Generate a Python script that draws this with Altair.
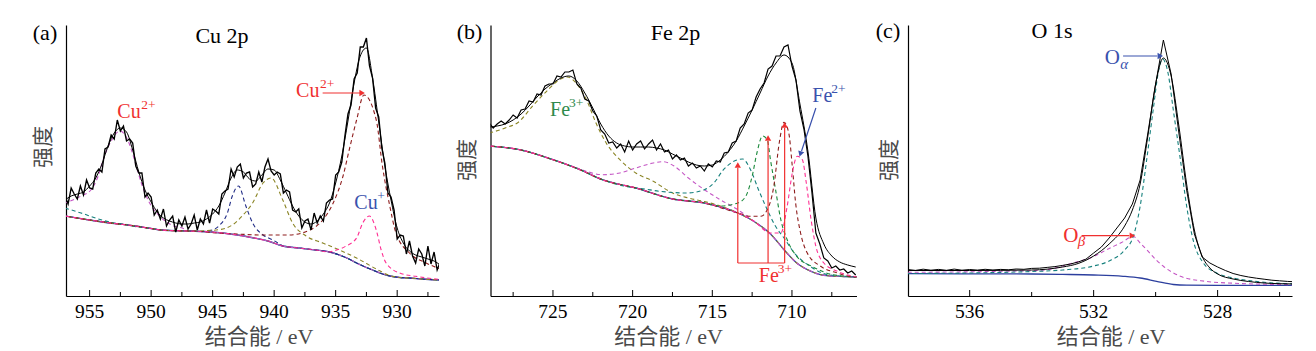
import altair as alt
import pandas as pd

SERIF = "Liberation Serif"
MIXED = "Liberation Serif, Noto Sans CJK SC"
H = 271

# colours
C_BG = "#2c3f9e"
C_TEAL = "#16807d"
C_MAG = "#c455c4"
C_NAVY = "#1f2a85"
C_OLIVE = "#8a8424"
C_MAROON = "#8e1c1c"
C_PINK = "#ff2f93"
C_GREEN = "#1b8a3c"
C_RED = "#f03030"
C_BLUE = "#3a52ad"
C_LGREEN = "#2f8a4c"

# ================= (a) Cu 2p =================
A_MAJOR = [955, 950, 945, 940, 935, 930]
A_MINOR = [952.5, 947.5, 942.5, 937.5, 932.5, 927.5]
A_RAW_E0, A_RAW_DE = 957.0, 0.25
A_RAW = [100, 92, 108, 102, 97, 110, 101, 116, 108, 107,
         123, 127, 124, 147, 149, 161, 157, 176, 165, 170,
         155, 157, 153, 130, 123, 123, 99, 103, 99, 81,
         86, 77, 87, 70, 76, 80, 64, 76, 70, 79,
         67, 72, 81, 66, 77, 72, 86, 73, 87, 85,
         82, 102, 105, 107, 127, 119, 129, 132, 118, 123,
         124, 109, 112, 124, 114, 129, 137, 125, 121, 124,
         122, 103, 106, 104, 86, 84, 87, 68, 75, 77,
         66, 83, 73, 80, 75, 93, 96, 97, 121, 124,
         134, 160, 182, 191, 217, 223, 249, 249, 258, 230,
         218, 188, 179, 148, 133, 103, 99, 86, 57, 61,
         60, 42, 55, 40, 33, 47, 42, 30, 50, 32,
         44, 26, 34]
A_FIT_E0, A_FIT_DE = 957.0, 0.5
A_FIT = [96, 100, 102, 104, 110, 118, 132, 150, 163, 168,
         164, 146, 124, 106, 94, 84, 78, 75, 73, 72,
         72, 73, 74, 77, 82, 90, 103, 118, 126, 124,
         117, 115, 121, 127, 126, 116, 103, 90, 80, 74,
         72, 75, 82, 93, 113, 140, 175, 213, 240, 248,
         218, 174, 130, 96, 68, 53, 45, 41, 39, 37,
         35, 31]
A_BG_E = [957, 955, 953, 951.9, 950, 949.2, 947, 945.1, 943, 941.85, 940.5, 939.3, 938,
          936.6, 935.5, 934.7, 934, 933.3, 932.6, 932, 931.3, 930.6, 929.8, 929, 928, 926.5]
A_BG_I = [80, 76, 72.5, 71, 67.5, 66, 65, 64, 61, 58.5, 55, 50, 48,
          46, 44, 41, 37.5, 33, 29, 26, 22.5, 20, 18.5, 18, 17, 16]
A_TEAL_E = [957, 955.7, 954, 953, 952]
A_TEAL_I = [88, 83, 76, 73, 71.5]
A_MAG_E = [957, 955.7, 954.9, 954.3, 953.8, 953.2, 952.55, 951.9, 951.35, 950.8, 950.25, 949.4, 948.35, 947.2]
A_MAG_I = [93, 100, 106, 120, 140, 156, 165, 156, 136, 113, 96, 81, 71, 66.5]
A_NAVY_E = [946, 945.2, 944.5, 943.8, 943.4, 942.9, 942.3, 941.75, 940.9, 940.1, 939.5]
A_NAVY_I = [64.5, 65.5, 70, 83, 100, 110, 90, 73, 61, 56, 51.5]
A_OLIVE_E = [946.5, 944.7, 943.4, 942.6, 941.75, 940.9, 940.25, 939.3, 938.5, 937.4, 936.05, 934.7, 933.3, 931.7, 930.6]
A_OLIVE_I = [65, 66, 71, 80, 93, 113, 118, 96, 73, 60, 53, 46, 38, 27, 20.5]
A_MAROON_E = [946.5, 945.2, 943, 941.2, 938.8, 937.1, 936.05, 935.2, 934.4, 933.9, 933.3, 932.7,
              931.7, 931.2, 930.6, 930.1, 929, 927.65, 926.5]
A_MAROON_I = [65, 63.5, 62, 61, 61, 66, 76, 93, 120, 146, 176, 201,
              176, 130, 90, 63, 43, 33, 27]
A_PINK_E = [935.2, 934.15, 933.3, 932.8, 932.26, 931.7, 931.3, 930.9, 929.8, 928.5, 926.5]
A_PINK_I = [45, 50, 58, 73, 80, 66, 46, 33, 23, 19.7, 16.5]
A_SEGS = [(936.06, 203, 932.95, 203, C_RED)]
A_HEADS = [(932.85, 203, "triangle-right", 0, C_RED)]
A_TEXT = [(952.75, 178, "Cu", C_RED, 20), (950.8, 187, "2+", C_RED, 13.5),
          (938.22, 199, "Cu", C_RED, 20), (936.28, 208, "2+", C_RED, 13.5),
          (933.48, 87, "Cu", C_BLUE, 20), (931.61, 96, "+", C_BLUE, 13.5)]
A_ITAL = []
A_LABELS = [(-21, 15, "(a)", 22, 0), (156, 18, "Cu 2p", 22, 0),
            (-22, 122, "强度", 21, 270), (193, 319, "结合能 / eV", 22, 0)]

# ================= (b) Fe 2p =================
B_MAJOR = [725, 720, 715, 710]
B_MINOR = [727.5, 722.5, 717.5, 712.5, 707.5]
B_RAW_E0, B_RAW_DE = 729.0, 0.25
B_RAW = [173, 168, 172, 175, 172, 176, 181, 178, 186, 187,
         195, 194, 202, 201, 210, 212, 212, 220, 219, 224,
         224, 226, 212, 208, 197, 195, 185, 180, 166, 162,
         153, 154, 148, 152, 144, 155, 146, 152, 155, 147,
         152, 156, 146, 152, 144, 146, 137, 141, 136, 138,
         130, 133, 128, 130, 125, 132, 129, 135, 134, 143,
         144, 153, 155, 168, 172, 183, 186, 199, 207, 213,
         227, 230, 240, 240, 249, 251, 230, 216, 185, 167,
         140, 104, 63, 52, 38, 35, 28, 30, 26, 27,
         23, 25, 21]
B_FIT_E0, B_FIT_DE = 729.0, 0.5
B_FIT = [169, 170, 172, 176, 182, 190, 199, 207, 213, 218,
         220, 215, 203, 188, 172, 160, 153, 150, 149, 149,
         149, 148, 146, 142, 138, 134, 131, 130, 131, 136,
         144, 155, 170, 186, 203, 220, 233, 241, 233, 192,
         145, 78, 52, 40, 34, 31, 29]
B_BG_E = [729, 727.1, 725, 723.3, 721.9, 719.8, 717.5, 715.5, 713.4, 712.4, 711.3, 710.5,
          709.7, 708.8, 707.8, 705.9]
B_BG_I = [150, 146.3, 136.3, 126.3, 116.3, 108, 97, 93, 83, 74.7, 61.3, 46.3,
          33, 24.7, 20.3, 19]
B_OLIVE_E = [729, 728, 727.1, 726.3, 725.4, 724.6, 724.1, 723.55, 722.9, 722.3, 721.66,
             720.8, 719.8, 718.7, 717.5, 716.5, 715.5, 714.5]
B_OLIVE_I = [163, 168, 174.7, 189.7, 204.7, 216.3, 219, 213, 196.3, 173, 153,
             136.3, 123, 114.7, 103, 98, 94.5, 90]
B_MAG_E = [724, 722.9, 721.9, 720.8, 719.8, 718.7, 718.1, 717.4, 716.5, 715.5, 714.5, 713.4]
B_MAG_I = [131, 124.7, 121.3, 123, 128, 133, 134.3, 130, 118, 106.3, 96.3, 86.3]
B_TEAL_E = [719.5, 718.3, 716.6, 715.5, 714.9, 714.3, 713.65, 713.1, 712.6, 712.1, 711.55,
            711.03, 710.5, 709.9, 708.8, 707.8]
B_TEAL_I = [107.5, 104.7, 103, 106.3, 113, 126.3, 134.7, 137, 126.3, 106.3, 86.3,
            69.7, 58, 44, 29, 21.5]
B_GREEN_E = [715, 714.5, 713.4, 712.9, 712.5, 712.2, 711.85, 711.55, 711.35, 711.03, 710.7,
             710.3, 709.7, 708.8, 708.1, 707.5]
B_GREEN_I = [91, 90, 93, 99.7, 119.7, 143, 160, 156, 136.3, 106.3, 76.3,
             56.3, 39.7, 30, 24.7, 21.5]
B_MAROON_E = [713.4, 712.6, 711.97, 711.55, 711.14, 710.8, 710.5, 710.2, 709.98, 709.77,
              709.46, 709.04, 708.2, 707.15, 706.5]
B_MAROON_I = [83, 79.7, 79.7, 86.3, 109.7, 153, 173.7, 163, 129.7, 93,
              63, 43, 29.7, 23, 20]
B_PINK_E = [712.4, 711.35, 710.7, 710.3, 709.98, 709.67, 709.35, 709.1, 708.8, 708.5, 708,
            707.15, 706.5]
B_PINK_I = [75, 63, 63, 89.7, 123, 139.7, 136.3, 113, 76.3, 49.7, 33,
            24.7, 21]
B_SEGS = [(708.5, 188, 709.4, 145, C_BLUE),
          (713.4, 33, 710.46, 33, C_RED),
          (713.4, 33, 713.4, 128, C_RED),
          (711.5, 33, 711.5, 155, C_RED),
          (710.46, 33, 710.46, 168, C_RED)]
B_HEADS = [(709.47, 142, "triangle-up", 198, C_BLUE),
           (713.4, 131, "triangle-up", 0, C_RED),
           (711.5, 158, "triangle-up", 0, C_RED),
           (710.46, 171, "triangle-up", 0, C_RED)]
B_TEXT = [(725.18, 179.7, "Fe", C_LGREEN, 20), (723.99, 189, "3+", C_LGREEN, 13.5),
          (708.72, 194, "Fe", C_BLUE, 20), (707.53, 203, "2+", C_BLUE, 13.5),
          (712.08, 13.7, "Fe", C_RED, 20), (710.89, 23, "3+", C_RED, 13.5)]
B_ITAL = []
B_LABELS = [(-21, 14, "(b)", 22, 0), (185, 15, "Fe 2p", 22, 0),
            (-23, 135, "强度", 21, 270), (178, 319, "结合能 / eV", 22, 0)]

# ================= (c) O 1s =================
C_MAJOR = [536, 532, 528]
C_MINOR = [534, 530, 526]
C_RAW_E0, C_RAW_DE = 538.0, 0.25
C_RAW = [26.5, 25.6, 26.8, 25.8, 26.6, 25.7, 26.9, 25.8, 26.5, 25.9,
         26.7, 26.0, 26.6, 26.2, 27.0, 26.7, 27.6, 27.8, 28.6, 29.4,
         30.6, 32.0, 34.0, 36.8, 43.0, 49.0, 58.0, 68.0, 78.0, 92.0,
         116, 163, 212, 256, 222, 163, 106, 62, 39, 33,
         29, 25.5, 22.5, 20.5, 19, 17.8, 16.8, 15.8, 15.2, 14.6,
         14.2]
C_FIT_E = [538, 536, 534, 533, 532.5, 532, 531.5, 531, 530.75, 530.5, 530.25, 530, 529.75,
           529.5, 529.25, 529, 528.75, 528.5, 528.25, 528, 527.5, 527, 526.5, 526, 525.5]
C_FIT = [25.5, 25.5, 26, 29, 32.5, 40, 52, 70, 86, 112, 160, 212, 238,
         220, 170, 112, 66, 40, 28, 22, 17, 14.5, 13, 12.3, 12]
C_BG_E = [538, 534, 533, 532, 531.05, 530.5, 529.97, 529.43, 529.0, 528, 525.5]
C_BG_I = [22.3, 22, 21.6, 21, 19.7, 18, 14.7, 11.5, 10.8, 10.7, 10.7]
C_MAG_E = [538, 536, 534.5, 533.7, 532.66, 532.0, 531.58, 531.1, 530.72, 530.5, 530.29, 530.0,
           529.75, 529.2, 528.4, 527.5, 526.5, 525.5]
C_MAG_I = [23.7, 24.2, 25, 25.7, 33, 39.5, 46.3, 53.5, 59.5, 53, 46.3, 36.5,
           29.7, 19.7, 14.7, 12.8, 11.8, 11.3]
C_TEAL_E = [538, 536, 534, 533, 532, 531.5, 531.0, 530.72, 530.5, 530.29, 530.08, 529.9,
            529.78, 529.6, 529.43, 529.2, 529.0, 528.79, 528.46, 528.03, 527.5, 526.8, 525.5]
C_TEAL_I = [22.5, 23, 24.5, 26, 30, 35, 46, 59.7, 89.7, 136, 186, 226,
            237, 223, 186, 136, 90, 56, 33, 23, 18, 14.7, 12]
C_SEGS = [(531.05, 240, 529.95, 240, C_BLUE), (532.39, 60.3, 530.85, 60.3, C_RED)]
C_HEADS = [(529.85, 240, "triangle-right", 0, C_BLUE), (530.75, 60.3, "triangle-right", 0, C_RED)]
C_TEXT = [(531.64, 232, "O", C_BLUE, 21), (532.98, 54, "O", C_RED, 21)]
C_ITAL = [(531.14, 227, "α", C_BLUE, 15), (532.51, 50, "β", C_RED, 15)]
C_LABELS = [(-20, 13, "(c)", 22, 0), (144, 13, "O 1s", 22, 0),
            (-18, 135, "强度", 21, 270), (203, 319, "结合能 / eV", 22, 0)]


def grid(e0, de, vals):
    return [e0 - de * i for i in range(len(vals))]


def merge_bg(ep, ip, eb, ib):
    lo, hi = min(ep), max(ep)
    pts = [(e, i) for e, i in zip(eb, ib) if e < lo - 1e-9 or e > hi + 1e-9]
    pts += list(zip(ep, ip))
    pts.sort()
    return pd.DataFrame(pts, columns=["E", "I"])


def panel(lo, hi, W, major, minor, raw, fit, bg, comps, segs, heads, texts, itals, labels, rawW):
    xs = alt.Scale(domain=[lo, hi], reverse=True, nice=False, zero=False)
    ys = alt.Scale(domain=[0, H], nice=False, zero=False)
    xaxis = alt.Axis(labels=False, title=None, ticks=False, grid=False,
                     domainColor="black", domainWidth=1.2)
    yaxis = alt.Axis(labels=False, ticks=False, grid=False, title=None,
                     domainColor="black", domainWidth=1.2)
    X = alt.X("E:Q", scale=xs, axis=xaxis)
    Y = alt.Y("I:Q", scale=ys, axis=yaxis)
    layers = []
    bgdf = pd.DataFrame({"E": bg[0], "I": bg[1]})
    layers.append(alt.Chart(bgdf).mark_line(color=C_BG, strokeWidth=1.3, interpolate="monotone",
                                            clip=True).encode(X, Y))
    for k, (ce, ci, col) in enumerate(comps):
        df = merge_bg(ce, ci, bg[0], bg[1])
        layers.append(alt.Chart(df).mark_line(color=col, strokeWidth=1.1, strokeDash=[4, 3],
                                              strokeDashOffset=k * 1.3, interpolate="monotone",
                                              clip=True).encode(X, Y))
    fitdf = pd.DataFrame({"E": fit[0], "I": fit[1]})
    layers.append(alt.Chart(fitdf).mark_line(color="black", strokeWidth=1.0, interpolate="monotone",
                                             clip=True).encode(X, Y))
    rawdf = pd.DataFrame({"E": raw[0], "I": raw[1]})
    layers.append(alt.Chart(rawdf).mark_line(color="black", strokeWidth=rawW, clip=True).encode(X, Y))
    # inward ticks and tick labels
    mdf = pd.DataFrame({"E": major, "lab": [str(v) for v in major]})
    layers.append(alt.Chart(mdf).mark_rule(color="black", strokeWidth=1)
                  .encode(x=X, y=alt.value(H), y2=alt.value(H - 6)))
    layers.append(alt.Chart(mdf).mark_text(font=SERIF, fontSize=19.5, align="center",
                                           baseline="alphabetic", color="black")
                  .encode(x=X, y=alt.value(H + 22), text="lab:N"))
    layers.append(alt.Chart(pd.DataFrame({"E": minor})).mark_rule(color="black", strokeWidth=1)
                  .encode(x=X, y=alt.value(H), y2=alt.value(H - 4)))
    # arrows
    sdf = pd.DataFrame(segs, columns=["E", "I", "E2", "I2", "c"])
    layers.append(alt.Chart(sdf).mark_rule(strokeWidth=1.2).encode(
        x=X, y=Y, x2="E2:Q", y2="I2:Q", color=alt.Color("c:N", scale=None)))
    hdf = pd.DataFrame(heads, columns=["E", "I", "shp", "ang", "c"])
    layers.append(alt.Chart(hdf).mark_point(filled=True, opacity=1, size=40).encode(
        x=X, y=Y, shape=alt.Shape("shp:N", scale=None), angle=alt.Angle("ang:Q", scale=None),
        color=alt.Color("c:N", scale=None)))
    # annotation text
    tdf = pd.DataFrame(texts, columns=["E", "I", "t", "c", "fs"])
    layers.append(alt.Chart(tdf).mark_text(font=SERIF, align="left", baseline="alphabetic").encode(
        x=X, y=Y, text="t:N", color=alt.Color("c:N", scale=None), size=alt.Size("fs:Q", scale=None)))
    if itals:
        idf = pd.DataFrame(itals, columns=["E", "I", "t", "c", "fs"])
        layers.append(alt.Chart(idf).mark_text(font=SERIF, fontStyle="italic", align="left",
                                               baseline="alphabetic").encode(
            x=X, y=Y, text="t:N", color=alt.Color("c:N", scale=None), size=alt.Size("fs:Q", scale=None)))
    for (px, py, txt, fs, ang) in labels:
        cjk = ang or "eV" in txt
        kw = dict(font=MIXED, fontSize=fs, align="center",
                  color="#4a4a4a" if cjk else "black")
        if ang:
            kw["angle"] = ang
            kw["baseline"] = "middle"
        else:
            kw["baseline"] = "alphabetic"
        layers.append(alt.Chart(pd.DataFrame({"t": [txt]})).mark_text(**kw).encode(
            x=alt.value(px), y=alt.value(py), text="t:N"))
    return alt.layer(*layers).properties(width=W, height=H)


pa = panel(926.6, 956.92, 373, A_MAJOR, A_MINOR,
           (grid(A_RAW_E0, A_RAW_DE, A_RAW), A_RAW), (grid(A_FIT_E0, A_FIT_DE, A_FIT), A_FIT),
           (A_BG_E, A_BG_I),
           [(A_TEAL_E, A_TEAL_I, C_TEAL), (A_MAG_E, A_MAG_I, C_MAG), (A_NAVY_E, A_NAVY_I, C_NAVY),
            (A_OLIVE_E, A_OLIVE_I, C_OLIVE), (A_MAROON_E, A_MAROON_I, C_MAROON),
            (A_PINK_E, A_PINK_I, C_PINK)],
           A_SEGS, A_HEADS, A_TEXT, A_ITAL, A_LABELS, 1.35)

pb = panel(705.95, 728.92, 366, B_MAJOR, B_MINOR,
           (grid(B_RAW_E0, B_RAW_DE, B_RAW), B_RAW), (grid(B_FIT_E0, B_FIT_DE, B_FIT), B_FIT),
           (B_BG_E, B_BG_I),
           [(B_OLIVE_E, B_OLIVE_I, C_OLIVE), (B_MAG_E, B_MAG_I, C_MAG), (B_TEAL_E, B_TEAL_I, C_TEAL),
            (B_GREEN_E, B_GREEN_I, C_GREEN), (B_MAROON_E, B_MAROON_I, C_MAROON),
            (B_PINK_E, B_PINK_I, C_PINK)],
           B_SEGS, B_HEADS, B_TEXT, B_ITAL, B_LABELS, 1.2)

pc = panel(525.6, 537.99, 384, C_MAJOR, C_MINOR,
           (grid(C_RAW_E0, C_RAW_DE, C_RAW), C_RAW), (C_FIT_E, C_FIT),
           (C_BG_E, C_BG_I),
           [(C_MAG_E, C_MAG_I, C_MAG), (C_TEAL_E, C_TEAL_I, C_TEAL)],
           C_SEGS, C_HEADS, C_TEXT, C_ITAL, C_LABELS, 1.0)

chart = alt.hconcat(pa, pb, pc, spacing=51.5, bounds="flush").properties(
    padding={"left": 32, "top": 20, "right": 4, "bottom": 4}
).configure_view(stroke=None)

chart.save("out.html", embed_options={"renderer": "svg", "actions": False})
